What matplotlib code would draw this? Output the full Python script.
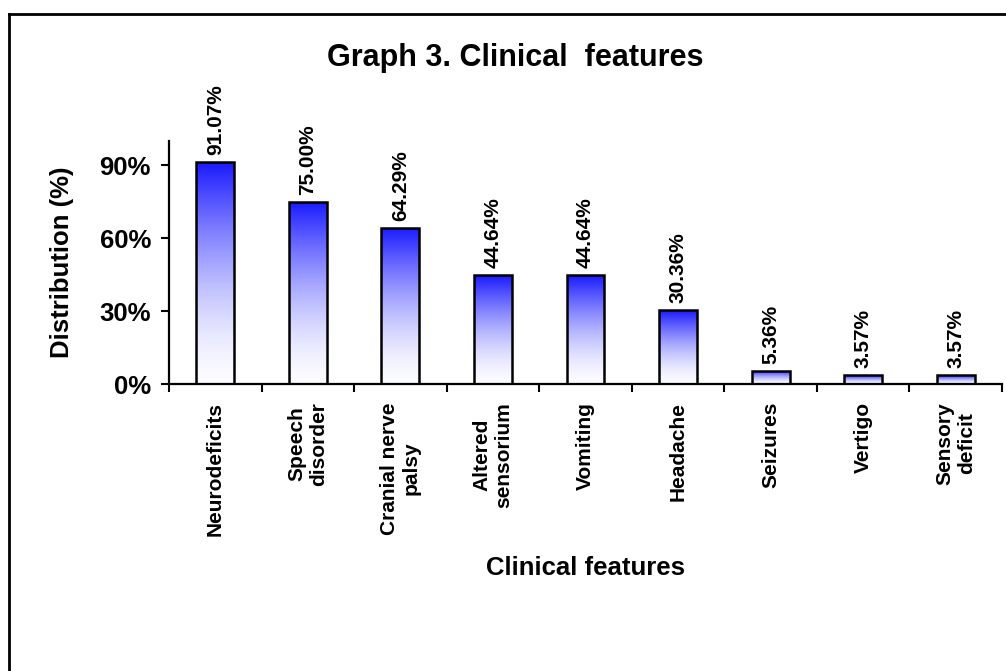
import numpy as np
import matplotlib.pyplot as plt
from matplotlib.colors import LinearSegmentedColormap
from matplotlib.lines import Line2D
from matplotlib.ticker import FuncFormatter, MultipleLocator

plt.rcParams['font.family'] = ['Liberation Sans', 'DejaVu Sans']
plt.rcParams['font.weight'] = 'bold'

features = ['Neurodeficits', 'Speech\ndisorder', 'Cranial nerve\npalsy',
            'Altered\nsensorium', 'Vomiting', 'Headache', 'Seizures',
            'Vertigo', 'Sensory\ndeficit']
percent = [91.07, 75.00, 64.29, 44.64, 44.64, 30.36, 5.36, 3.57, 3.57]

fig = plt.figure(figsize=(10.06, 6.71), dpi=100)
ax = fig.add_axes([0.168, 0.4277, 0.828, 0.3626])

# white at the base of each bar, blue at its top (blue fades out quickly)
fade = LinearSegmentedColormap.from_list('fade', ['#fbfbff', '#1a1aff'])
grad = (np.linspace(0, 1, 256) ** 1.6).reshape(-1, 1)

x = np.arange(len(features))
bars = ax.bar(x, percent, width=0.41, facecolor='none', edgecolor='black',
              linewidth=1.8, zorder=3)
for b in bars:
    x0, w, h = b.get_x(), b.get_width(), b.get_height()
    im = ax.imshow(grad, cmap=fade, origin='lower', aspect='auto',
                   extent=[x0, x0 + w, 0, h], zorder=2, vmin=0, vmax=1)
    im.set_clip_path(b)
    ax.annotate(f'{h:.2f}%', (x0 + w / 2, h), xytext=(0, 5),
                textcoords='offset points', rotation=90, ha='center',
                va='bottom', fontsize=15, fontweight='bold')

ax.set_xlim(-0.5, len(features) - 0.5)
ax.set_ylim(0, 100)

ax.yaxis.set_major_locator(MultipleLocator(30))
ax.yaxis.set_major_formatter(FuncFormatter(lambda v, _: f'{v:.0f}%'))
ax.tick_params(axis='y', direction='out', length=6, width=1.5, pad=7,
               labelsize=18.5)

ax.set_xticks(x)
ax.set_xticklabels(features, rotation=90, ha='center', va='top',
                   multialignment='center', fontsize=15)
ax.set_xticks(np.arange(-0.5, len(features)), minor=True)
ax.tick_params(axis='x', which='major', length=0, pad=13)
ax.tick_params(axis='x', which='minor', direction='out', length=6, width=1.5)

for s in ['top', 'right']:
    ax.spines[s].set_visible(False)
for s in ['left', 'bottom']:
    ax.spines[s].set_linewidth(1.6)

ax.set_ylabel('Distribution (%)', fontsize=18.5, fontweight='bold', labelpad=18)
ax.set_xlabel('Clinical features', fontsize=18.5, fontweight='bold', labelpad=14)

fig.text(515 / 1006, 1 - 58 / 671, 'Graph 3. Clinical  features',
         ha='center', va='center', fontsize=22, fontweight='bold')

# frame around the chart area
fig.add_artist(Line2D([9 / 1006, 1], [1 - 14 / 671] * 2, color='black',
                      linewidth=2, transform=fig.transFigure))
fig.add_artist(Line2D([9 / 1006] * 2, [0, 1 - 14 / 671], color='black',
                      linewidth=2, transform=fig.transFigure))

fig.savefig('out.png', dpi=100)
